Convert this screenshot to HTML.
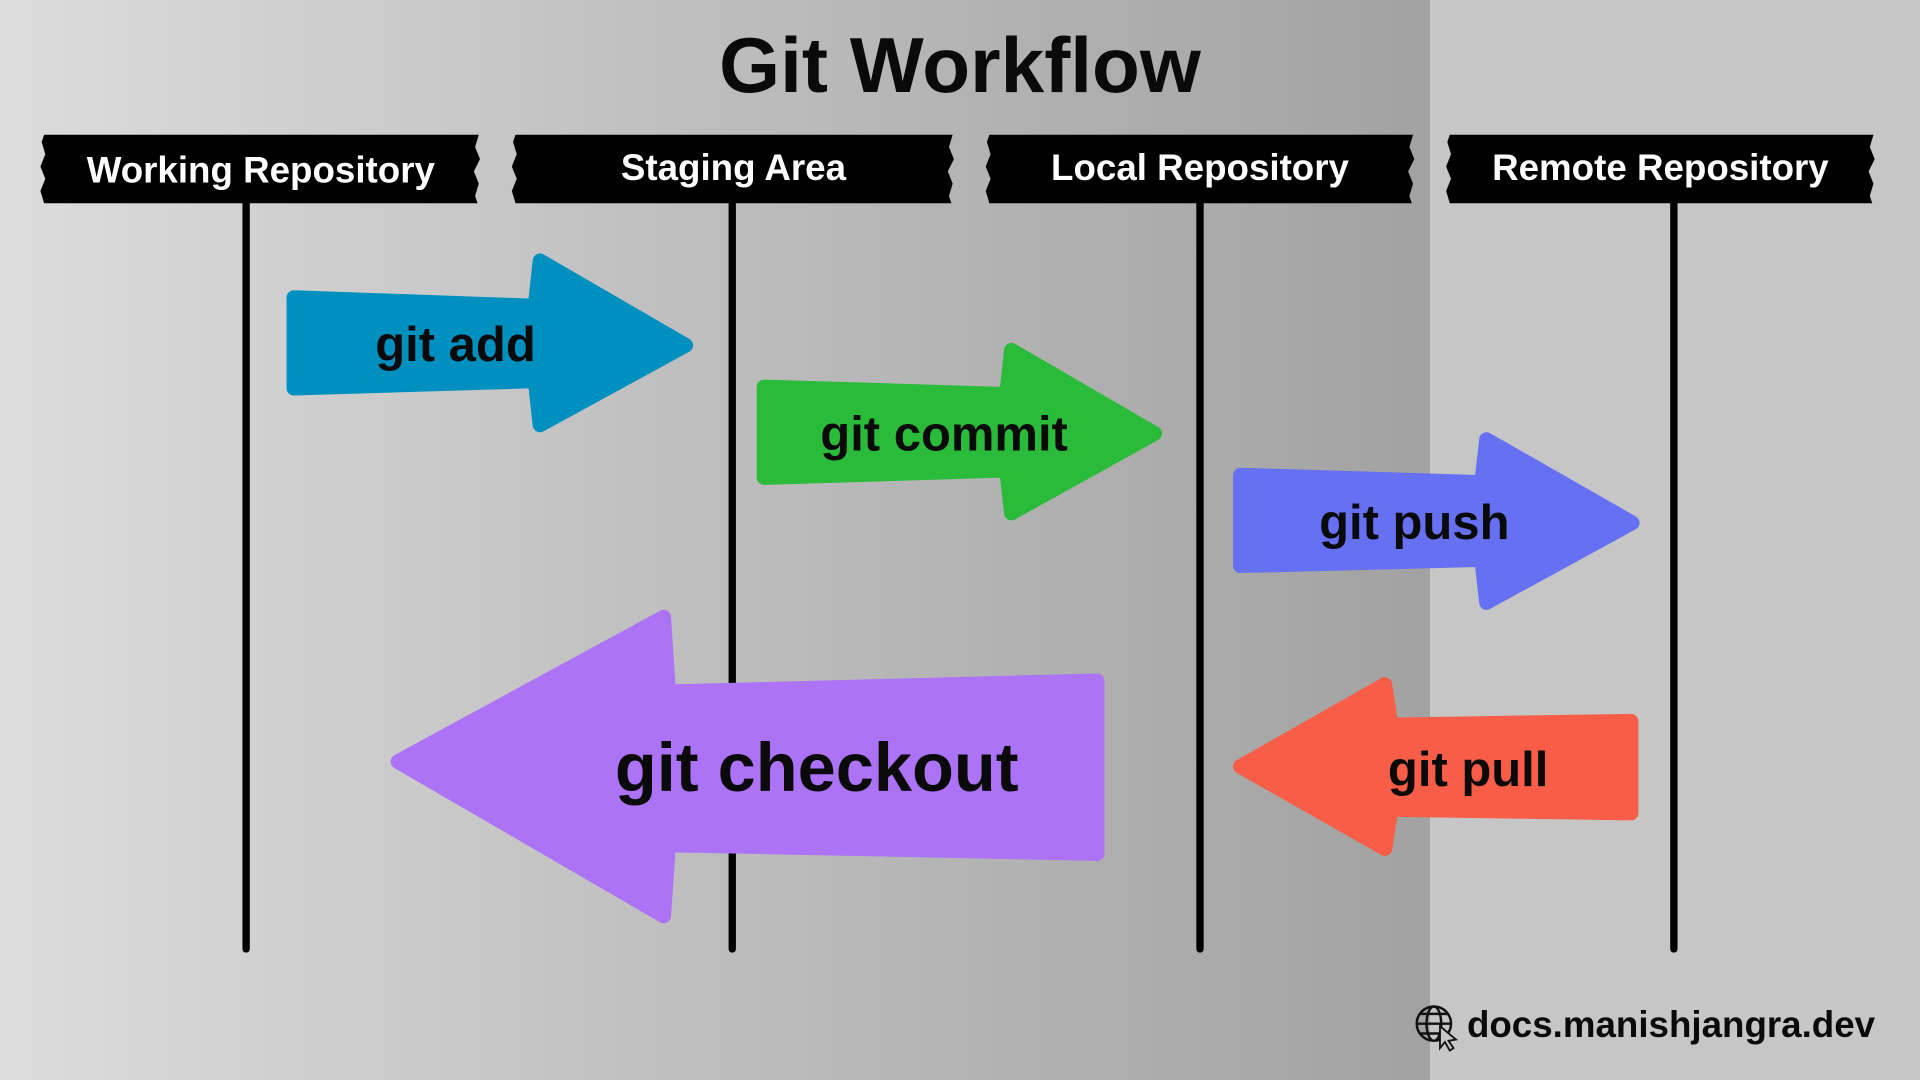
<!DOCTYPE html>
<html><head><meta charset="utf-8"><style>
html,body{margin:0;padding:0;width:1920px;height:1080px;overflow:hidden}
svg{display:block}
text{font-family:"Liberation Sans",sans-serif;font-weight:bold}
</style></head><body>
<svg width="1920" height="1080" viewBox="0 0 1568 882" xmlns="http://www.w3.org/2000/svg">
<defs>
<linearGradient id="bg" x1="0" x2="1" y1="0" y2="0">
<stop offset="0" stop-color="#dcdcdc"/><stop offset="0.5" stop-color="#bdbdbd"/><stop offset="1" stop-color="#a2a2a2"/>
</linearGradient>
</defs>
<rect x="0" y="0" width="1168" height="882" fill="url(#bg)"/>
<rect x="1168" y="0" width="400" height="882" fill="#c6c6c6"/>

<text x="784" y="75" font-size="64" text-anchor="middle" fill="#0a0a0a">Git Workflow</text>

<g fill="#000">
<path d="M36 110 H391 L388 120 392 130 387 140 391 150 388 160 390 166 H36 L33 156 37 146 33 136 37 126 34 116 Z"/>
<path d="M421 110 H778 L775 120 779 130 774 140 778 150 775 160 777 166 H421 L418 156 422 146 418 136 422 126 419 116 Z"/>
<path d="M808 110 H1154 L1151 120 1155 130 1150 140 1154 150 1151 160 1153 166 H808 L805 156 809 146 805 136 809 126 806 116 Z"/>
<path d="M1184 110 H1530 L1527 120 1531 130 1526 140 1530 150 1527 160 1529 166 H1184 L1181 156 1185 146 1181 136 1185 126 1182 116 Z"/>
</g>
<g fill="#fff" font-size="30" text-anchor="middle">
<text x="213" y="149">Working Repository</text>
<text x="599" y="147">Staging Area</text>
<text x="980" y="147">Local Repository</text>
<text x="1356" y="147">Remote Repository</text>
</g>

<g stroke="#000" stroke-width="6" stroke-linecap="round">
<line x1="201" y1="166" x2="201" y2="775"/>
<line x1="598" y1="166" x2="598" y2="775"/>
<line x1="980" y1="166" x2="980" y2="775"/>
<line x1="1367" y1="166" x2="1367" y2="775"/>
</g>

<g stroke-linejoin="round" stroke-width="12">
<path fill="#0090bf" stroke="#0090bf" d="M240 243 L437 250 L441 213 L560 282 L441 347 L437 311 L240 317 Z"/>
<path fill="#2abb3a" stroke="#2abb3a" d="M624 316 L822 322 L826 286 L943 354 L826 419 L822 384 L624 390 Z"/>
<path fill="#6670f2" stroke="#6670f2" d="M1013 388 L1210 394 L1214 359 L1333 427 L1214 492 L1210 457 L1013 462 Z"/>
<path fill="#ad73f6" stroke="#ad73f6" d="M896 556 L546 565 L542 504 L325 622 L542 748 L546 690 L896 697 Z"/>
<path fill="#f75d47" stroke="#f75d47" d="M1332 589 L1136 592 L1131 559 L1013 626 L1131 693 L1136 661 L1332 664 Z"/>
</g>

<g fill="#0a0a0a" text-anchor="middle">
<text x="372" y="295" font-size="40">git add</text>
<text x="771" y="368" font-size="40">git commit</text>
<text x="1155" y="440" font-size="40">git push</text>
<text x="667" y="646" font-size="56">git checkout</text>
<text x="1199" y="642" font-size="40">git pull</text>
</g>

<g stroke="#111" stroke-width="2" fill="none">
<circle cx="1171" cy="836" r="14"/>
<ellipse cx="1171" cy="836" rx="6" ry="14"/>
<line x1="1157" y1="836" x2="1185" y2="836"/>
<line x1="1160" y1="828" x2="1182" y2="828"/>
<line x1="1160" y1="844" x2="1182" y2="844"/>
</g>
<path d="M1176 838 L1176 856 L1180 851 L1184 858 L1187 856 L1183 850 L1189 849 Z" fill="#c6c6c6" stroke="#111" stroke-width="1.5"/>
<text x="1198" y="847" font-size="30" fill="#0a0a0a">docs.manishjangra.dev</text>
</svg>
</body></html>
